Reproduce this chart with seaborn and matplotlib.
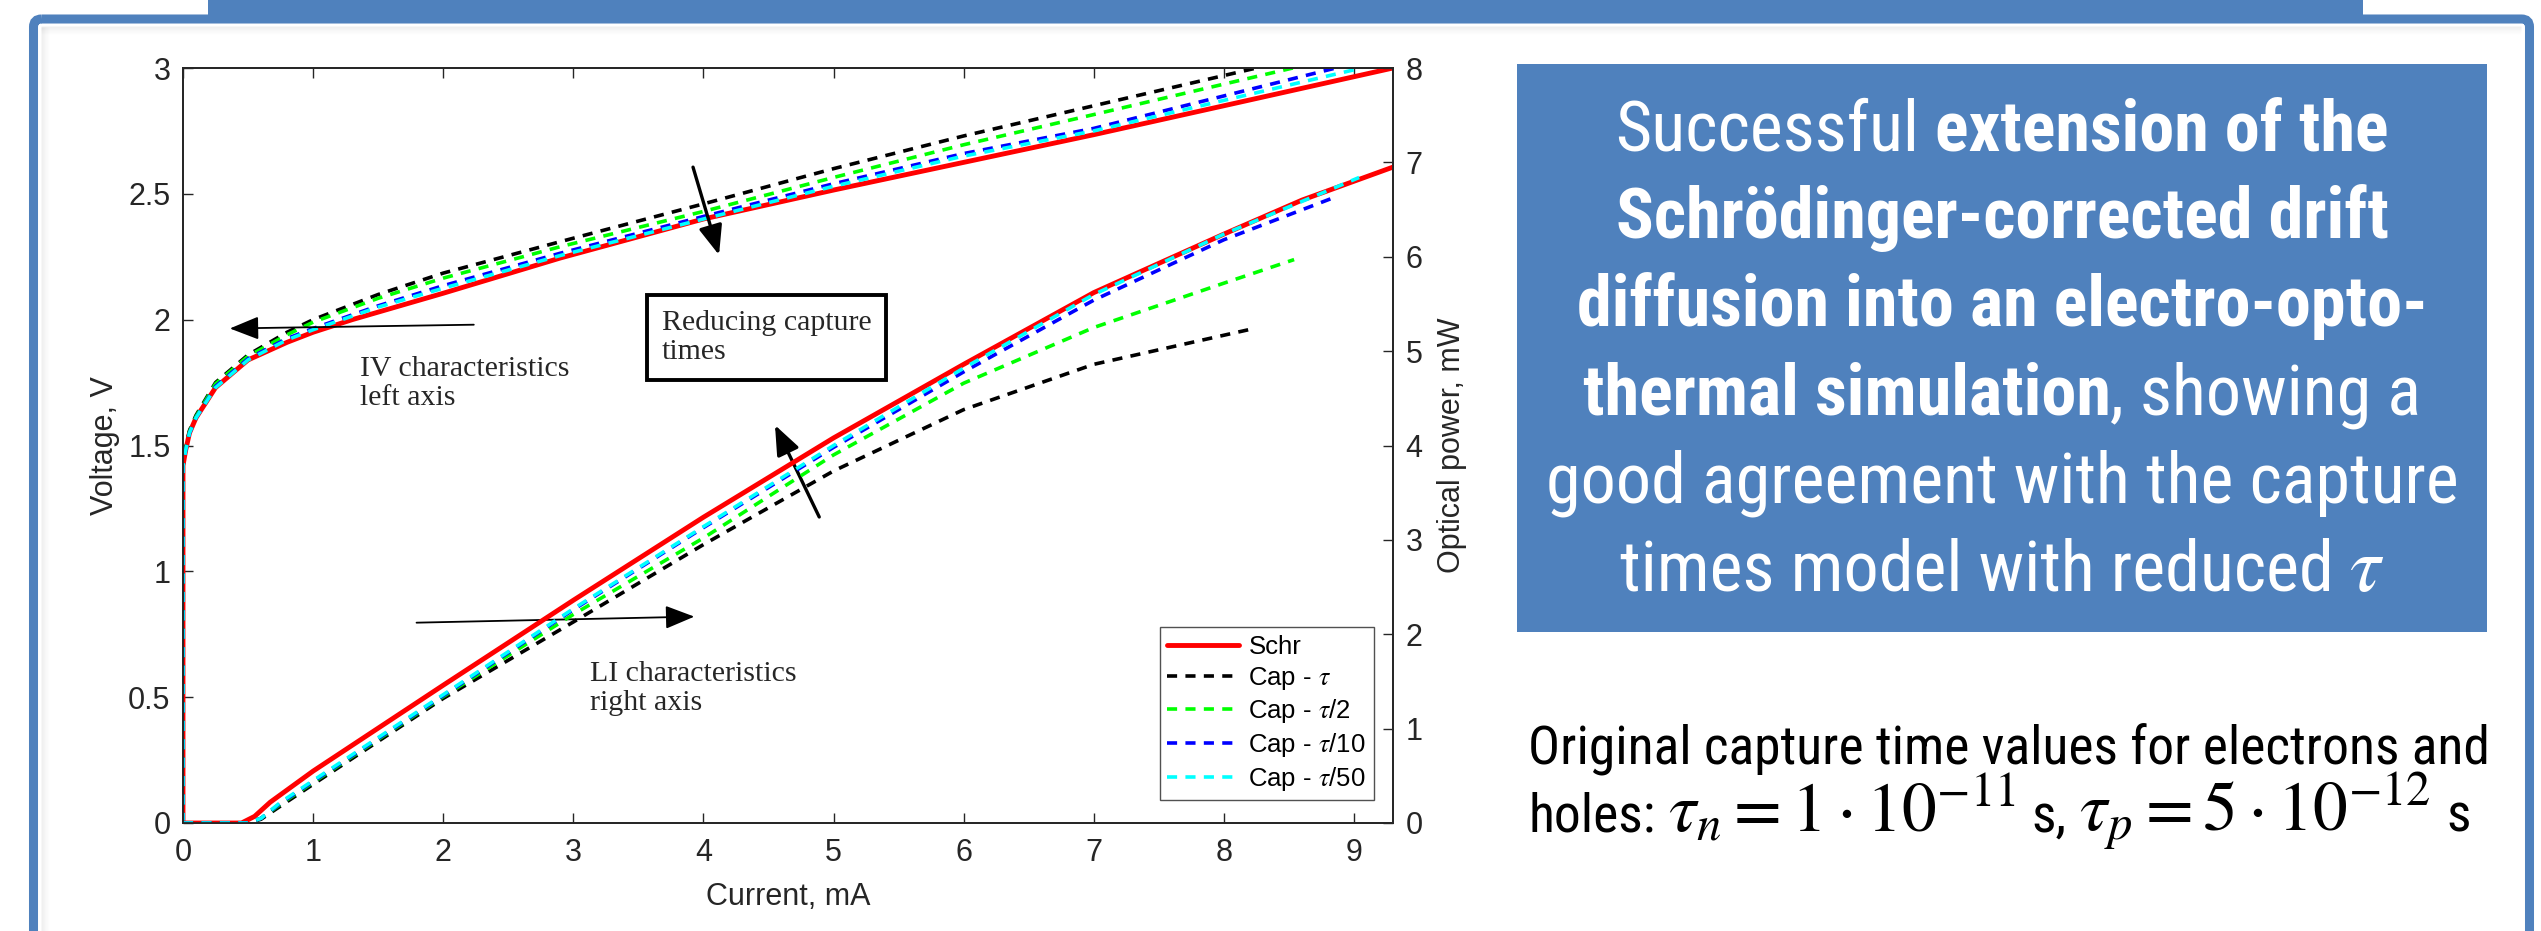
import matplotlib
matplotlib.use("Agg")
import matplotlib.pyplot as plt
from matplotlib.patches import Rectangle, FancyBboxPatch
import seaborn as sns

# ──────────────────────────────────────────────
# Canvas (target image size in pixels)
# ──────────────────────────────────────────────
W, H, DPI = 2541, 931, 100
SLIDE_BLUE = "#4f81bd"
AXIS_GREY = "#262626"
NARROW = ["Liberation Sans Narrow", "Arial Narrow", "Roboto Condensed", "Liberation Sans"]
SANS = ["Liberation Sans", "DejaVu Sans"]
SERIF = ["Liberation Serif", "DejaVu Serif"]

# ──────────────────────────────────────────────
# Data
# ──────────────────────────────────────────────
series_labels = ["Schr", r"Cap - $\tau$", r"Cap - $\tau$/2", r"Cap - $\tau$/10", r"Cap - $\tau$/50"]
series_colors = ["#ff0000", "#000000", "#00ff00", "#0000ff", "#00ffff"]

# IV characteristics: current (mA) vs voltage (V), left axis
iv_cur_schr = [0, 0, 0.02, 0.05, 0.1, 0.25, 0.5, 0.8, 1.0, 1.3, 2.0, 2.9, 4.0, 5.0, 6.0, 7.0, 8.0, 9.3]
iv_volt_schr = [0, 1.42, 1.48, 1.55, 1.61, 1.73, 1.84, 1.91, 1.95, 2.0, 2.105, 2.245, 2.40, 2.515, 2.625, 2.735, 2.85, 3.0]

iv_cur_tau = [0, 0, 0.02, 0.05, 0.1, 0.25, 0.5, 0.8, 1.0, 1.5, 2.0, 2.9, 4.0, 5.0, 6.0, 7.0, 8.25]
iv_volt_tau = [0, 1.42, 1.49, 1.56, 1.62, 1.75, 1.86, 1.95, 2.0, 2.1, 2.185, 2.31, 2.46, 2.6, 2.73, 2.85, 3.0]

iv_cur_tau2 = [0, 0, 0.02, 0.05, 0.1, 0.25, 0.5, 0.8, 1.0, 1.5, 2.0, 2.9, 4.0, 5.0, 6.0, 7.0, 8.53]
iv_volt_tau2 = [0, 1.42, 1.485, 1.555, 1.615, 1.745, 1.855, 1.94, 1.99, 2.085, 2.165, 2.29, 2.43, 2.565, 2.695, 2.815, 3.0]

iv_cur_tau10 = [0, 0, 0.02, 0.05, 0.1, 0.25, 0.5, 0.8, 1.0, 1.5, 2.0, 2.9, 4.0, 5.0, 6.0, 7.0, 8.86]
iv_volt_tau10 = [0, 1.42, 1.48, 1.55, 1.61, 1.735, 1.845, 1.925, 1.965, 2.055, 2.135, 2.264, 2.41, 2.54, 2.66, 2.76, 3.0]

iv_cur_tau50 = [0, 0, 0.02, 0.05, 0.1, 0.25, 0.5, 0.8, 1.0, 1.5, 2.0, 2.9, 4.0, 5.0, 6.0, 7.0, 9.06]
iv_volt_tau50 = [0, 1.42, 1.48, 1.55, 1.61, 1.73, 1.84, 1.92, 1.96, 2.05, 2.125, 2.255, 2.40, 2.53, 2.65, 2.75, 3.0]

# LI characteristics: current (mA) vs optical power (mW), right axis
li_cur_schr = [0, 0.45, 0.55, 0.67, 1.0, 2.0, 3.0, 4.0, 5.0, 6.0, 7.0, 8.0, 8.6, 9.3]
li_pow_schr = [0, 0, 0.07, 0.22, 0.55, 1.46, 2.36, 3.24, 4.08, 4.86, 5.62, 6.24, 6.6, 6.95]

li_cur_tau = [0, 0.5, 0.6, 0.75, 1.0, 2.0, 3.0, 4.0, 5.0, 6.0, 7.0, 8.2]
li_pow_tau = [0, 0, 0.04, 0.18, 0.41, 1.32, 2.13, 2.95, 3.73, 4.38, 4.86, 5.23]

li_cur_tau2 = [0, 0.5, 0.6, 0.75, 1.0, 2.0, 3.0, 4.0, 5.0, 6.0, 7.0, 8.0, 8.54]
li_pow_tau2 = [0, 0, 0.05, 0.2, 0.43, 1.34, 2.21, 3.02, 3.9, 4.66, 5.25, 5.72, 5.97]

li_cur_tau10 = [0, 0.5, 0.6, 0.75, 1.0, 2.0, 3.0, 4.0, 5.0, 6.0, 7.0, 8.0, 8.87]
li_pow_tau10 = [0, 0, 0.05, 0.21, 0.44, 1.35, 2.26, 3.13, 3.98, 4.78, 5.54, 6.18, 6.64]

li_cur_tau50 = [0, 0.5, 0.6, 0.75, 1.0, 2.0, 3.0, 4.0, 5.0, 6.0, 7.0, 8.0, 9.04]
li_pow_tau50 = [0, 0, 0.05, 0.22, 0.45, 1.36, 2.27, 3.14, 4.0, 4.82, 5.6, 6.24, 6.84]

iv_curves = [(iv_cur_schr, iv_volt_schr), (iv_cur_tau, iv_volt_tau), (iv_cur_tau2, iv_volt_tau2),
             (iv_cur_tau10, iv_volt_tau10), (iv_cur_tau50, iv_volt_tau50)]
li_curves = [(li_cur_schr, li_pow_schr), (li_cur_tau, li_pow_tau), (li_cur_tau2, li_pow_tau2),
             (li_cur_tau10, li_pow_tau10), (li_cur_tau50, li_pow_tau50)]

x_ticks = list(range(0, 10))
v_ticks = [0, 0.5, 1, 1.5, 2, 2.5, 3]
v_tick_labels = ["0", "0.5", "1", "1.5", "2", "2.5", "3"]
p_ticks = list(range(0, 9))

# ──────────────────────────────────────────────
# Style
# ──────────────────────────────────────────────
sns.set_style("ticks")
plt.rcParams["font.family"] = SANS
plt.rcParams["mathtext.fontset"] = "stix"

fig = plt.figure(figsize=(W / DPI, H / DPI), dpi=DPI)
fig.patch.set_facecolor("white")

# background layer in image pixel coordinates (slide frame, text box)
bg = fig.add_axes([0, 0, 1, 1], zorder=-5)
bg.set_xlim(0, W)
bg.set_ylim(H, 0)
bg.axis("off")

# slide frame + header banner
bg.add_patch(Rectangle((208, 0), 2363 - 208, 20, color=SLIDE_BLUE, lw=0))
for k in range(8):
    bg.plot([42 + k, 42 + k], [28, H], color="black", alpha=0.035 * (8 - k) / 8, lw=1.2)
    bg.plot([42, 2521], [27 + k, 27 + k], color="black", alpha=0.035 * (8 - k) / 8, lw=1.2)
bg.add_patch(FancyBboxPatch((33.5, 19), 2529.5 - 33.5, 1000, boxstyle="round,pad=0,rounding_size=8",
                            fill=False, ec=SLIDE_BLUE, lw=6.5))

# ──────────────────────────────────────────────
# Main plot — IV on left axis, LI on right axis
# ──────────────────────────────────────────────
ax = fig.add_axes([183 / W, 1 - 823 / H, (1393 - 183) / W, (823 - 68) / H])
ax2 = ax.twinx()

for i, ((cur, volt), lab, col) in enumerate(zip(iv_curves, series_labels, series_colors)):
    style = "-" if i == 0 else (0, (2.8, 2.3))
    lw = 3.5 if i == 0 else 2.6
    sns.lineplot(x=cur, y=volt, ax=ax, color=col, linewidth=lw, linestyle=style,
                 estimator=None, sort=False, legend=False, label=lab)

for i, ((cur, pw), col) in enumerate(zip(li_curves, series_colors)):
    style = "-" if i == 0 else (0, (2.8, 2.3))
    lw = 3.5 if i == 0 else 2.6
    sns.lineplot(x=cur, y=pw, ax=ax2, color=col, linewidth=lw, linestyle=style,
                 estimator=None, sort=False, legend=False)

ax.set_xlim(0, 9.3)
ax.set_ylim(0, 3)
ax2.set_ylim(0, 8)
ax.set_xticks(x_ticks)
ax.set_yticks(v_ticks)
ax.set_yticklabels(v_tick_labels)
ax2.set_yticks(p_ticks)

for a in (ax, ax2):
    for sp in a.spines.values():
        sp.set_color(AXIS_GREY)
        sp.set_linewidth(1.3)
        sp.set_visible(True)
ax.tick_params(axis="x", direction="in", length=7, width=1, top=True, bottom=True,
               labelsize=22, colors=AXIS_GREY, pad=11)
ax.tick_params(axis="y", direction="in", length=7, width=1, left=True, right=False,
               labelsize=22, colors=AXIS_GREY, pad=9)
ax2.tick_params(axis="y", direction="in", length=7, width=1, left=False, right=True,
                labelsize=22, colors=AXIS_GREY, pad=9)

ax.set_xlabel("Current, mA", fontsize=22, color=AXIS_GREY, labelpad=10)
ax.set_ylabel("Voltage, V", fontsize=22, color=AXIS_GREY, labelpad=6)
ax2.set_ylabel("Optical power, mW", fontsize=22, color=AXIS_GREY, labelpad=10)

# legend (handles taken from the IV lines)
handles = ax.get_lines()[:5]
leg = ax2.legend(handles=handles, labels=series_labels, loc="lower right",
                 bbox_to_anchor=(0.984, 0.03), frameon=True, fancybox=False,
                 fontsize=18.5, handlelength=2.8, handletextpad=0.35, labelspacing=0.22,
                 borderpad=0.3, borderaxespad=0)
leg.get_frame().set_edgecolor(AXIS_GREY)
leg.get_frame().set_linewidth(1.0)
for t in leg.get_texts():
    t.set_color("black")

# annotations (left-axis data coordinates)
thin = dict(arrowstyle="-|>,head_length=0.9,head_width=0.36", lw=1.3, color="black",
            shrinkA=0, shrinkB=0, mutation_scale=20)
thick = dict(arrowstyle="-|>,head_length=0.9,head_width=0.36", lw=2.4, color="black",
             shrinkA=0, shrinkB=0, mutation_scale=20)
ax.annotate("", xy=(0.36, 1.965), xytext=(2.235, 1.98), arrowprops=thin, zorder=6)
ax.annotate("", xy=(3.93, 0.82), xytext=(1.795, 0.796), arrowprops=thin, zorder=6)
ax.annotate("", xy=(4.12, 2.257), xytext=(3.92, 2.606), arrowprops=thick, zorder=6)
ax.annotate("", xy=(4.55, 1.581), xytext=(4.89, 1.216), arrowprops=thick, zorder=6)

ax.text(1.36, 1.746, "IV characteristics\nleft axis", family=SERIF, fontsize=21.5,
        va="center", ha="left", linespacing=1.15, zorder=6)
ax.text(3.13, 0.534, "LI characteristics\nright axis", family=SERIF, fontsize=21.5,
        va="center", ha="left", linespacing=1.15, zorder=6)
ax.text(3.68, 1.93, "Reducing capture\ntimes", family=SERIF, fontsize=21.5,
        va="center", ha="left", linespacing=1.15, zorder=6,
        bbox=dict(boxstyle="square,pad=0.5", fc="white", ec="black", lw=2.8))

# ──────────────────────────────────────────────
# Right-hand text panel
# ──────────────────────────────────────────────
bg.add_patch(Rectangle((1517, 64), 2487 - 1517, 632 - 64, color=SLIDE_BLUE, lw=0, zorder=1))

renderer = fig.canvas.get_renderer()
BOX_SIZE = 50.5
NOTE_SIZE = 38.5
MATH_SIZE = 50


def text_width(t):
    return t.get_window_extent(renderer).width


# width of one space per point of font size
gap_ref = bg.text(0, 0, "a a", fontsize=100, family=NARROW)
nogap_ref = bg.text(0, 0, "aa", fontsize=100, family=NARROW)
SPACE_PER_PT = (text_width(gap_ref) - text_width(nogap_ref)) / 100
gap_ref.remove()
nogap_ref.remove()


def place_segments(parts, y_base, color, x_center=None, x_left=None):
    """parts: (text, weight, size, space_after) laid out on one baseline."""
    texts, widths = [], []
    for s, wt, size, space_after in parts:
        t = bg.text(0, y_base, s, fontsize=size, fontweight=wt, family=NARROW,
                    color=color, va="baseline", ha="left", zorder=3)
        texts.append(t)
        widths.append(text_width(t) + (SPACE_PER_PT * size if space_after else 0))
    x = x_left if x_left is not None else x_center - sum(widths) / 2
    for t, w in zip(texts, widths):
        t.set_x(x)
        x += w


box_lines = [
    [("Successful", "normal", BOX_SIZE, True), ("extension of the", "bold", BOX_SIZE, False)],
    [("Schrödinger-corrected drift", "bold", BOX_SIZE, False)],
    [("diffusion into an electro-opto-", "bold", BOX_SIZE, False)],
    [("thermal simulation", "bold", BOX_SIZE, False), (", showing a", "normal", BOX_SIZE, False)],
    [("good agreement with the capture", "normal", BOX_SIZE, False)],
    [("times model with reduced", "normal", BOX_SIZE, True), (r"$\tau$", "normal", 56, False)],
]
baselines = [150.5, 238.5, 326.5, 414.5, 502.5, 590.5]
for parts, yb in zip(box_lines, baselines):
    place_segments(parts, yb, "white", x_center=(1517 + 2487) / 2)

place_segments([("Original capture time values for electrons and", "normal", NOTE_SIZE, False)],
               764, "black", x_left=1528)
place_segments([("holes:", "normal", NOTE_SIZE, True),
                (r"$\tau_n = 1\cdot10^{-11}$", "normal", MATH_SIZE, True),
                ("s,", "normal", NOTE_SIZE, True),
                (r"$\tau_p = 5\cdot10^{-12}$", "normal", MATH_SIZE, True),
                ("s", "normal", NOTE_SIZE, False)],
               832, "black", x_left=1528)

fig.savefig("out.png", dpi=DPI, facecolor="white")
plt.close(fig)
